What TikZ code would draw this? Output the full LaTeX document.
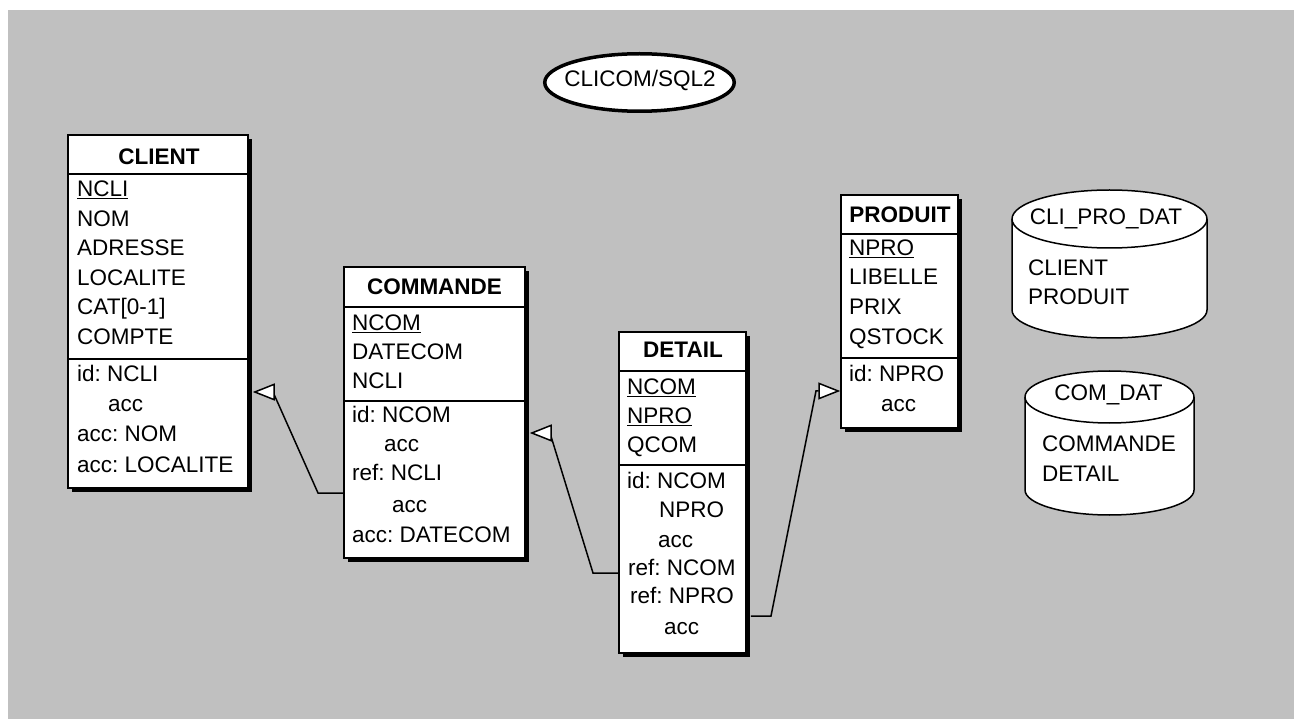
\documentclass[tikz,border=0pt]{standalone}
\usepackage{fontspec}
\setmainfont{Liberation Sans}
\usetikzlibrary{arrows.meta,shapes.geometric,fit,shadows}
\definecolor{bg}{RGB}{192,192,192}
\frenchspacing
\tikzset{
  ent/.style={draw=black, line width=1.5pt, fill=white, inner sep=0pt,
    drop shadow={shadow xshift=4pt, shadow yshift=-4pt, fill=black, opacity=1}},
  sepline/.style={line width=1.5pt},
  txt/.style={anchor=base west, inner sep=0pt, font=\fontsize{22.5}{27}\selectfont},
  ctxt/.style={anchor=base, inner sep=0pt, font=\fontsize{22.5}{27}\selectfont},
  hdr/.style={anchor=base, inner sep=0pt, font=\fontsize{22.5}{27}\selectfont\bfseries},
  link/.style={line width=1.5pt, line join=miter,
    -{Triangle[length=22pt, width=17pt, fill=white, line width=1.5pt]}},
  dbfile/.style={draw=black, line width=1.5pt, fill=white}
}
\begin{document}
\begin{tikzpicture}[x=1pt, y=-1pt]
\useasboundingbox (0,0) rectangle (1294,719);
\fill[white] (0,0) rectangle (1294,719);
\fill[bg] (8,10) rectangle (1294,719);

% schema
\node[ellipse, draw, line width=3.5pt, fill=white, minimum width=189.5pt, minimum height=57.5pt, inner sep=0pt] (schema) at (639.5,82.5) {};
\node[ctxt] (schemaname) at (640,87) {CLICOM/SQL2};

% CLIENT
\node[ent, fit={(68,135) (248,488)}] (client) {};
\draw[sepline] (client.west |- 0,174) -- (client.east |- 0,174);
\draw[sepline] (client.west |- 0,359) -- (client.east |- 0,359);
\node[hdr] (clientT) at (159,165) {CLIENT};
\node[txt] (cl1) at (77,197) {\underline{NCLI}};
\node[txt] (cl2) at (77,227) {NOM};
\node[txt] (cl3) at (77,256) {ADRESSE};
\node[txt] (cl4) at (77,286) {LOCALITE};
\node[txt] (cl5) at (77,315) {CAT[0-1]};
\node[txt] (cl6) at (77,345) {COMPTE};
\node[txt] (cl7) at (77,382) {id: NCLI};
\node[txt] (cl8) at (108,411) {acc};
\node[txt] (cl9) at (77,442) {acc: NOM};
\node[txt] (cl10) at (77,472) {acc: LOCALITE};

% COMMANDE
\node[ent, fit={(344,267) (525,558)}] (commande) {};
\draw[sepline] (commande.west |- 0,307) -- (commande.east |- 0,307);
\draw[sepline] (commande.west |- 0,401) -- (commande.east |- 0,401);
\node[hdr] (commandeT) at (434.5,295) {COMMANDE};
\node[txt] (co1) at (352,331) {\underline{NCOM}};
\node[txt] (co2) at (352,360) {DATECOM};
\node[txt] (co3) at (352,389) {NCLI};
\node[txt] (co4) at (352,423) {id: NCOM};
\node[txt] (co5) at (384,451) {acc};
\node[txt] (co6) at (352,480) {ref: NCLI};
\node[txt] (co7) at (392,512) {acc};
\node[txt] (co8) at (352,542) {acc: DATECOM};

% DETAIL
\node[ent, fit={(619,332) (746,653)}] (detail) {};
\draw[sepline] (detail.west |- 0,371) -- (detail.east |- 0,371);
\draw[sepline] (detail.west |- 0,465) -- (detail.east |- 0,465);
\node[hdr] (detailT) at (683,358) {DETAIL};
\node[txt] (de1) at (627,395) {\underline{NCOM}};
\node[txt] (de2) at (627,424) {\underline{NPRO}};
\node[txt] (de3) at (627,453) {QCOM};
\node[txt] (de4) at (627,488) {id: NCOM};
\node[txt] (de5) at (659,517) {NPRO};
\node[txt] (de6) at (658,547) {acc};
\node[txt] (de7) at (628,575) {ref: NCOM};
\node[txt] (de8) at (630,603) {ref: NPRO};
\node[txt] (de9) at (664,634) {acc};

% PRODUIT
\node[ent, fit={(841,195) (958,428)}] (produit) {};
\draw[sepline] (produit.west |- 0,234) -- (produit.east |- 0,234);
\draw[sepline] (produit.west |- 0,358) -- (produit.east |- 0,358);
\node[hdr] (produitT) at (900,223) {PRODUIT};
\node[txt] (pr1) at (849,256) {\underline{NPRO}};
\node[txt] (pr2) at (849,285) {LIBELLE};
\node[txt] (pr3) at (849,315) {PRIX};
\node[txt] (pr4) at (849,345) {QSTOCK};
\node[txt] (pr5) at (849,382) {id: NPRO};
\node[txt] (pr6) at (881,411) {acc};

% connectors
\draw[link, shorten >=4pt] (commande.west |- 0,493) -- (318,493) -- (273,392) -- (client.east |- 0,392);
\draw[link, shorten >=4pt] (detail.west |- 0,573) -- (593,573) -- (550,433) -- (commande.east |- 0,433);
\draw[link, shorten <=4pt] (detail.east |- 0,616) -- (771,616) -- (816,391) -- (produit.west |- 0,391);

% files
\path[dbfile] (1012,219) -- (1012,310) arc[start angle=180, end angle=360, x radius=97.5pt, y radius=28pt]
  -- (1207,219) arc[start angle=0, end angle=180, x radius=97.5pt, y radius=29pt] -- cycle;
\draw[line width=1.5pt] (1012,219) arc[start angle=180, end angle=360, x radius=97.5pt, y radius=29pt];
\node[ctxt] (f1T) at (1106,225) {CLI\_PRO\_DAT};
\node[txt] (f1a) at (1028,276) {CLIENT};
\node[txt] (f1b) at (1028,305) {PRODUIT};

\path[dbfile] (1025,397) -- (1025,490) arc[start angle=180, end angle=360, x radius=84.5pt, y radius=25pt]
  -- (1194,397) arc[start angle=0, end angle=180, x radius=84.5pt, y radius=26pt] -- cycle;
\draw[line width=1.5pt] (1025,397) arc[start angle=180, end angle=360, x radius=84.5pt, y radius=26pt];
\node[ctxt] (f2T) at (1108.5,400) {COM\_DAT};
\node[txt] (f2a) at (1042,451) {COMMANDE};
\node[txt] (f2b) at (1042,481) {DETAIL};
\end{tikzpicture}
\end{document}
